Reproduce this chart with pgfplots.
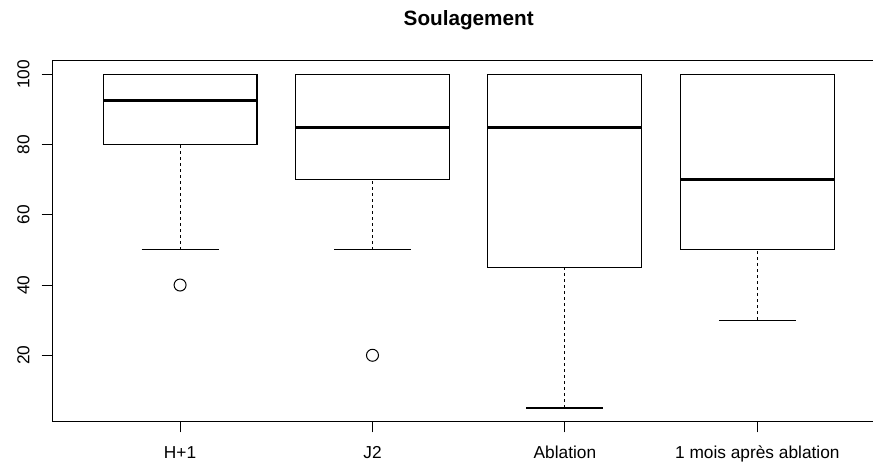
\documentclass[border=0pt]{standalone}
\usepackage{fontspec}
\setmainfont{Liberation Sans}
\usepackage{pgfplots}
\pgfplotsset{compat=1.18}
\usepgfplotslibrary{statistics}

% R-style boxplot: dashed whisker, solid staple, thick median
\pgfplotsset{
  rbox/.style={
    black, line width=1.1bp,
    mark=o, mark size=6bp, mark options={solid, line width=1bp},
    boxplot/draw direction=y,
    boxplot/box extend=0.8,
    boxplot/whisker extend=0.4,
    boxplot/draw/median/.code={
      \draw[line width=3bp] (boxplot box cs:\pgfplotsboxplotvalue{median},0)
        -- (boxplot box cs:\pgfplotsboxplotvalue{median},1);},
    boxplot/draw/lower whisker/.code={
      \draw[dash pattern=on 3bp off 3bp]
        (boxplot box cs:\pgfplotsboxplotvalue{lower whisker},0.5)
        -- (boxplot box cs:\pgfplotsboxplotvalue{lower quartile},0.5);
      \draw (boxplot whisker cs:\pgfplotsboxplotvalue{lower whisker},0)
        -- (boxplot whisker cs:\pgfplotsboxplotvalue{lower whisker},1);},
    boxplot/draw/upper whisker/.code={
      \draw[dash pattern=on 3bp off 3bp]
        (boxplot box cs:\pgfplotsboxplotvalue{upper whisker},0.5)
        -- (boxplot box cs:\pgfplotsboxplotvalue{upper quartile},0.5);
      \draw (boxplot whisker cs:\pgfplotsboxplotvalue{upper whisker},0)
        -- (boxplot whisker cs:\pgfplotsboxplotvalue{upper whisker},1);},
  },
}

\begin{document}
\begin{tikzpicture}
\begin{axis}[
  at={(52.7bp,41.7bp)}, anchor=south west,
  scale only axis,
  width=832bp, height=360.3bp,
  xmin=0.338, xmax=4.662,
  ymin=1.2, ymax=103.8,
  axis line style={line width=1bp},
  tick style={line width=1bp, black},
  tick align=outside, tick pos=left,
  major tick length=11bp,
  xtick={1,2,3,4},
  xticklabels={H+1, J2, Ablation, 1 mois après ablation},
  ytick={20,40,60,80,100},
  /pgf/number format/assume math mode=true,
  ticklabel style={font=\fontsize{17.3bp}{20bp}\selectfont, inner sep=0pt},
  xticklabel style={anchor=base, yshift=-26.7bp},
  yticklabel style={anchor=base, rotate=90},
  yticklabel shift=12.2bp,
  title={Soulagement},
  title style={at={(0.5,1)}, anchor=base, yshift=29.6bp, inner sep=0pt,
    font=\bfseries\fontsize{20.7bp}{24bp}\selectfont},
]
\addplot[rbox, boxplot prepared={draw position=1, lower whisker=50,
  lower quartile=80, median=92.5, upper quartile=100, upper whisker=100}]
  table[row sep=\\, y index=0] {v\\ 40\\};
\addplot[rbox, boxplot prepared={draw position=2, lower whisker=50,
  lower quartile=70, median=85, upper quartile=100, upper whisker=100}]
  table[row sep=\\, y index=0] {v\\ 20\\};
\addplot[rbox, boxplot prepared={draw position=3, lower whisker=5,
  lower quartile=45, median=85, upper quartile=100, upper whisker=100}]
  coordinates {};
\addplot[rbox, boxplot prepared={draw position=4, lower whisker=30,
  lower quartile=50, median=70, upper quartile=100, upper whisker=100}]
  coordinates {};
\end{axis}
\pgfresetboundingbox
\useasboundingbox (0bp,0bp) rectangle (873bp,463bp);
\end{tikzpicture}
\end{document}
